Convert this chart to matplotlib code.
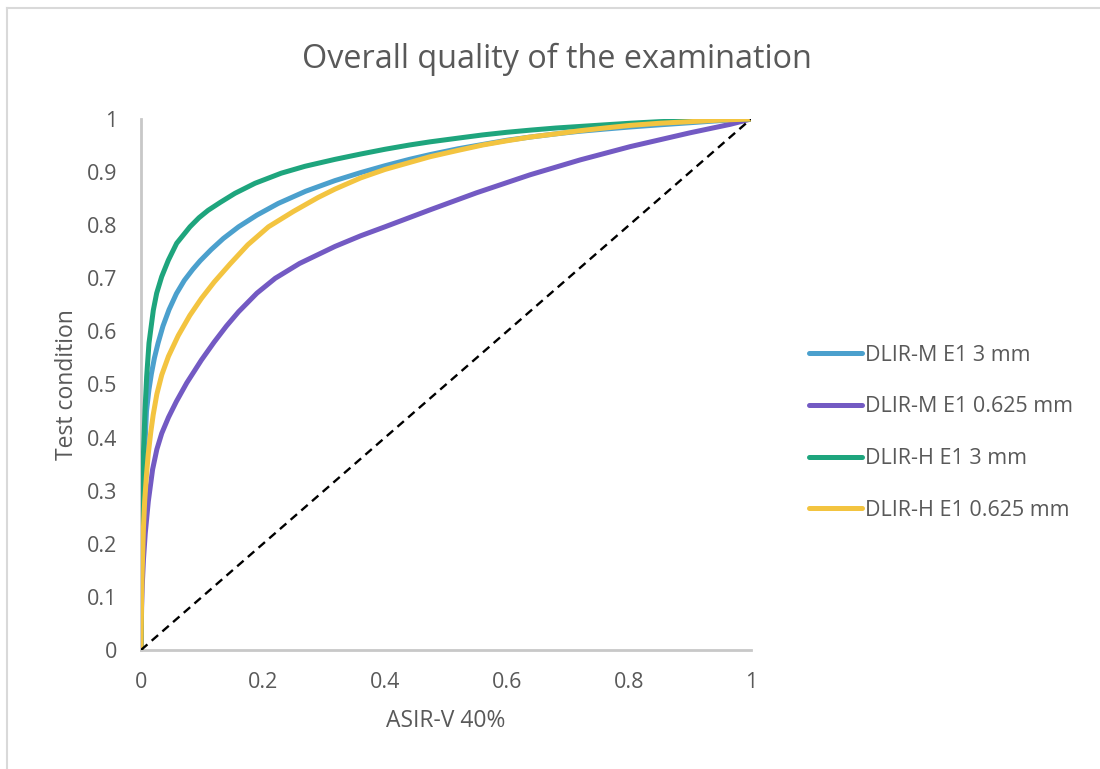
import matplotlib
matplotlib.use("Agg")
import matplotlib.pyplot as plt
from matplotlib.lines import Line2D

plt.rcParams['font.family'] = ['Open Sans', 'DejaVu Sans']

title = "Overall quality of the examination"
x_label = "ASIR-V 40%"
y_label = "Test condition"
ticks = [0, 0.1, 0.2, 0.3, 0.4, 0.5, 0.6, 0.7, 0.8, 0.9, 1]
x_ticks = [0, 0.2, 0.4, 0.6, 0.8, 1]

series_names = ["DLIR-M E1 3 mm", "DLIR-M E1 0.625 mm", "DLIR-H E1 3 mm", "DLIR-H E1 0.625 mm"]
series_colors = ["#4BA0CD", "#735AC3", "#1EA57D", "#F3C440"]

dlir_m_3_x = [0, 0.001, 0.002, 0.004, 0.007, 0.009, 0.013, 0.017, 0.022, 0.028, 0.036,
              0.046, 0.058, 0.071, 0.085, 0.097, 0.115, 0.135, 0.16, 0.19, 0.225,
              0.27, 0.318, 0.36, 0.40, 0.44, 0.474, 0.52, 0.56, 0.60, 0.638, 0.68,
              0.72, 0.76, 0.802, 0.85, 0.9, 0.95, 1]
dlir_m_3_y = [0, 0.13, 0.20, 0.30, 0.40, 0.45, 0.49, 0.52, 0.55, 0.578, 0.61,
              0.641, 0.671, 0.696, 0.717, 0.733, 0.754, 0.775, 0.797, 0.819, 0.841,
              0.864, 0.884, 0.899, 0.912, 0.924, 0.933, 0.944, 0.952, 0.960, 0.966, 0.972,
              0.977, 0.981, 0.985, 0.989, 0.993, 0.997, 1]

dlir_m_0625_x = [0, 0.001, 0.002, 0.004, 0.007, 0.012, 0.019, 0.026, 0.034, 0.045, 0.058,
                 0.075, 0.099, 0.12, 0.14, 0.16, 0.19, 0.22, 0.26, 0.318, 0.36, 0.40,
                 0.474, 0.55, 0.638, 0.72, 0.802, 0.9, 0.966, 1]
dlir_m_0625_y = [0, 0.08, 0.12, 0.17, 0.22, 0.28, 0.34, 0.378, 0.408, 0.438, 0.468,
                 0.503, 0.546, 0.58, 0.610, 0.637, 0.672, 0.700, 0.728, 0.760, 0.780, 0.797,
                 0.829, 0.861, 0.895, 0.923, 0.948, 0.974, 0.990, 1]

dlir_h_3_x = [0, 0.001, 0.002, 0.004, 0.0066, 0.0093, 0.0131, 0.0202, 0.0257, 0.0339,
              0.0448, 0.0585, 0.0803, 0.095, 0.110, 0.130, 0.154, 0.187, 0.230, 0.269,
              0.318, 0.36, 0.40, 0.44, 0.474, 0.52, 0.56, 0.60, 0.638, 0.68, 0.72,
              0.76, 0.802, 0.85, 0.9, 0.95, 1]
dlir_h_3_y = [0, 0.18, 0.27, 0.37, 0.452, 0.515, 0.578, 0.640, 0.672, 0.703,
              0.734, 0.766, 0.797, 0.814, 0.828, 0.843, 0.860, 0.879, 0.898, 0.911,
              0.924, 0.934, 0.943, 0.951, 0.957, 0.964, 0.970, 0.975, 0.979, 0.983, 0.986,
              0.989, 0.992, 0.995, 0.997, 0.999, 1]

dlir_h_0625_x = [0, 0.001, 0.002, 0.004, 0.006, 0.009, 0.012, 0.016, 0.020, 0.026, 0.034,
                 0.045, 0.061, 0.08, 0.099, 0.12, 0.146, 0.175, 0.209, 0.25, 0.29, 0.318,
                 0.36, 0.40, 0.44, 0.474, 0.52, 0.56, 0.60, 0.638, 0.68, 0.72, 0.76,
                 0.802, 0.85, 0.9, 0.95, 1]
dlir_h_0625_y = [0, 0.10, 0.15, 0.23, 0.28, 0.33, 0.37, 0.41, 0.443, 0.482, 0.518,
                 0.553, 0.592, 0.630, 0.662, 0.693, 0.727, 0.763, 0.797, 0.826, 0.852, 0.868,
                 0.889, 0.905, 0.918, 0.929, 0.941, 0.951, 0.959, 0.966, 0.972, 0.978, 0.983,
                 0.988, 0.992, 0.995, 0.998, 1]

reference_x = [0, 1]
reference_y = [0, 1]

series_x = [dlir_m_3_x, dlir_m_0625_x, dlir_h_3_x, dlir_h_0625_x]
series_y = [dlir_m_3_y, dlir_m_0625_y, dlir_h_3_y, dlir_h_0625_y]

text_color = "#595959"
W, H = 1100, 769
fig = plt.figure(figsize=(W / 100, H / 100), dpi=100)
ax = fig.add_axes([141 / W, 1 - 650 / H, 610 / W, 531 / H])

for xs, ys, name, color in zip(series_x, series_y, series_names, series_colors):
    ax.plot(xs, ys, color=color, lw=3.6, label=name, solid_capstyle='round',
            solid_joinstyle='round', zorder=3)

ax.plot(reference_x, reference_y, color="black", lw=1.7, dashes=(3.6, 2.4), zorder=4)

ax.set_xlim(0, 1)
ax.set_ylim(0, 1)
ax.set_xticks(x_ticks)
ax.set_xticklabels([f"{t:g}" for t in x_ticks])
ax.set_yticks(ticks)
ax.set_yticklabels([f"{t:g}" for t in ticks])
ax.tick_params(length=0, labelsize=15.5, colors=text_color)
ax.tick_params(axis='x', pad=15.5)
ax.tick_params(axis='y', pad=17)
for side in ("top", "right"):
    ax.spines[side].set_visible(False)
for side in ("left", "bottom"):
    ax.spines[side].set_color("#C8C8C8")
    ax.spines[side].set_linewidth(2)

ax.set_xlabel(x_label, fontsize=16.5, color=text_color, labelpad=12)
ax.set_ylabel(y_label, fontsize=16.5, color=text_color, labelpad=6)

fig.text(557 / W, 1 - 59 / H, title, ha="center", va="center", fontsize=23.3,
         color=text_color)

handles = [Line2D([0], [0], color=c, lw=3.6, solid_capstyle='round') for c in series_colors]
fig.legend(handles, series_names, loc="upper left", bbox_to_anchor=(800 / W, 1 - 336 / H),
           frameon=False, fontsize=15.5, labelcolor=text_color, handlelength=2.5,
           handletextpad=0.14, labelspacing=1.43, borderaxespad=0)

# light frame around the chart area
fig.add_artist(Line2D([7 / W, 7 / W], [0, 1 - 8 / H], color="#D9D9D9", lw=1.5,
                      transform=fig.transFigure))
fig.add_artist(Line2D([7 / W, 1], [1 - 8 / H, 1 - 8 / H], color="#D9D9D9", lw=1.5,
                      transform=fig.transFigure))

fig.savefig("out.png", dpi=100, facecolor="white")
